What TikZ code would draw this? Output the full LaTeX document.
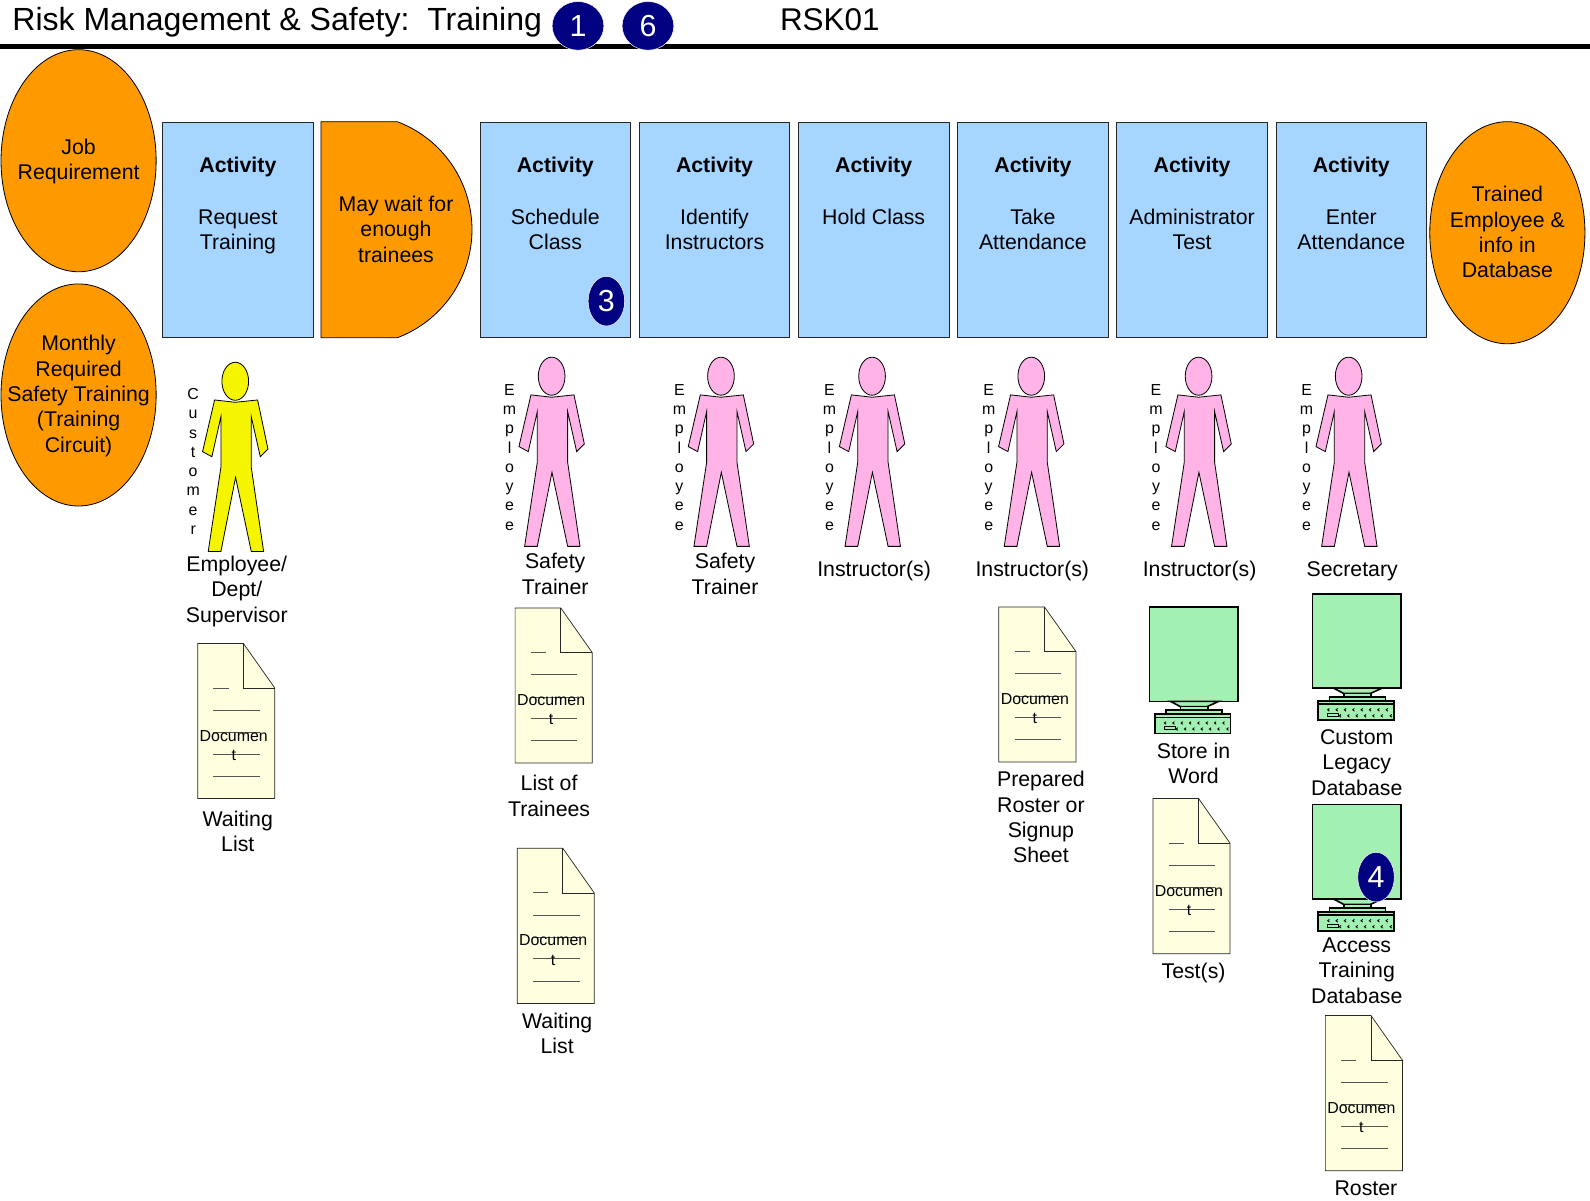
\documentclass[tikz,border=0pt]{standalone}
\usepackage{fontspec}
\setmainfont{Liberation Sans}
\usetikzlibrary{shapes.geometric}
\definecolor{orangefill}{HTML}{FF9900}
\definecolor{boxblue}{HTML}{A6D5FF}
\definecolor{navybadge}{HTML}{000080}
\definecolor{pinkfig}{HTML}{FFB3E6}
\definecolor{yellowfig}{HTML}{F5F500}
\definecolor{docfill}{HTML}{FFFFE0}
\definecolor{pcgreen}{HTML}{A3F0B3}
\definecolor{docline}{HTML}{555555}
\tikzset{
  lab/.style={font=\fontsize{21}{25}\selectfont,align=center,inner sep=0pt,text=black},
  orangeell/.style={ellipse,draw=black,line width=0.8pt,fill=orangefill,inner sep=0pt,minimum width=153pt,minimum height=219pt},
  actbox/.style={rectangle,draw=black!85,line width=0.8pt,fill=boxblue,inner sep=0pt,anchor=north west,minimum width=148.4pt,minimum height=212.6pt},
  badge/.style={ellipse,fill=navybadge,draw=white,line width=0.5pt,inner sep=0pt,text=white,font=\fontsize{30}{30}\selectfont},
  vert/.style={font=\fontsize{15.7}{19}\selectfont,align=center,inner sep=0pt},
  pics/person/.style={code={
    \begin{scope}[x=0.329pt,y=-0.329pt,draw=black,line width=0.8pt]
      \draw[fill=#1] (-62,56) -- (0,63) -- (67,56) -- (98,203) -- (75,226) -- (48,106) -- (48,258) -- (85,510) -- (48,510) -- (1,288) -- (-43,510) -- (-81,510) -- (-43,258) -- (-43,106) -- (-70,226) -- (-98,211) -- cycle;
      \draw[fill=#1] (0,0) ellipse [x radius=40,y radius=57];
    \end{scope}}},
  pics/docicon/.style={code={
    \draw[fill=docfill,draw=black!85,line width=0.7pt] (0,0) -- (45,0) -- (76,44) -- (76,153) -- (0,153) -- cycle;
    \draw[draw=black!85,line width=0.7pt] (45,0) -- (45,44) -- (76,44);
    \draw[docline,line width=0.8pt] (15.5,44) -- (30.5,44) (15.5,66) -- (61.5,66) (15.5,88) -- (61.5,88) (15.5,109) -- (61.5,109) (15.5,131) -- (61.5,131);
    \node[font=\fontsize{15.7}{19}\selectfont,align=center,inner sep=0pt] at (35.5,100.5) {Documen\\t};
  }},
  pics/pcicon/.style={code={
    \begin{scope}[x=0.329pt,y=-0.329pt,draw=black,line width=1.6pt,fill=pcgreen]
      \filldraw (0,0) rectangle (265,283);
      \filldraw (63,283) -- (93,299) -- (173,299) -- (208,283) -- cycle;
      \filldraw (93,299) rectangle (175,309);
      \filldraw (50,309) rectangle (218,321);
      \filldraw (16,321) rectangle (243,379);
      \draw (16,331) -- (243,331);
      \foreach \kx in {50,75,100,125,150,175,200,225} \draw[line width=0.9pt] (\kx,344) -- ++(-5,4) -- ++(5,4);
      \foreach \kx in {85,110,135,160,185,210,237} \draw[line width=0.9pt] (\kx,362) -- ++(-5,4) -- ++(5,4);
      \draw[line width=1pt] (45,358) rectangle (77,368);
    \end{scope}}}
}
\begin{document}
\begin{tikzpicture}[x=1pt,y=-1pt]
\useasboundingbox (0,0) rectangle (1568,1183.4);
% header
\draw[line width=5pt] (0,46) coordinate (ruleL) -- (1568,46) coordinate (ruleR);
\node[anchor=base west,inner sep=0pt,font=\fontsize{31.6}{34}\selectfont] (title) at (12,30) {Risk Management \& Safety:\ \ Training};
\node[anchor=base west,inner sep=0pt,font=\fontsize{31}{34}\selectfont] (code) at (769,30) {RSK01};
\node[badge,minimum width=51pt,minimum height=48pt] (b1) at (570,25.5) {1};
\node[badge,minimum width=51pt,minimum height=48pt] (b6) at (639,25.5) {6};
% orange ellipses
\node[orangeell] (job) at (77.5,158.5) {};
\node[lab] (jobt) at (77.5,159.5) {Job\\Requirement};
\node[orangeell] (mon) at (77.5,389.5) {};
\node[lab] (mont) at (77.5,390.5) {Monthly\\Required\\Safety Training\\(Training\\Circuit)};
\node[orangeell] (trained) at (1486.5,229.5) {};
\node[lab] (trainedt) at (1486.5,229) {Trained\\Employee \&\\info in\\Database};
% delay shape
\draw[fill=orangefill,draw=black,line width=0.8pt] (316.5,120) -- (391.8,120) arc[start angle=69.3,end angle=-69.3,radius=113.9pt] -- (316.5,333) -- cycle;
\node[lab] (wait) at (390.5,226) {May wait for\\enough\\trainees};
% activities
\foreach \nm/\bx/\tx in {a1/160/Request\\Training,a2/473/Schedule\\Class,a3/630/Identify\\Instructors,a4/787/Hold Class,a5/944/Take\\Attendance,a6/1101/Administrator\\Test,a7/1258/Enter\\Attendance}{
  \node[actbox] (\nm) at (\bx,120) {};
  \node[lab,anchor=north] at ([yshift=-34.5pt]\nm.north) {\textbf{Activity}\\[26pt]\tx};
}
\node[badge,minimum width=36pt,minimum height=49pt] (b3) at (598,297) {3};
% people
\pic at (232,376) {person=yellowfig};
\foreach \px in {544,711,860,1017,1182,1330} \pic at (\px,371) {person=pinkfig};
\node[vert] (vc) at (190.5,455) {C\\u\\s\\t\\o\\m\\e\\r};
\foreach \vx in {502.5,670,818,975,1140,1288.5} \node[vert] at (\vx,451) {E\\m\\p\\l\\o\\y\\e\\e};
% documents
\foreach \dx/\dy in {195/634.5,508/599.5,510/836.5,985/598.5,1137/787.5,1307/1001.5} \pic at (\dx,\dy) {docicon};
% computers
\pic at (1133.5,598.5) {pcicon};
\pic at (1294.5,585.5) {pcicon};
\pic at (1294.5,793.5) {pcicon};
\node[badge,minimum width=36pt,minimum height=49pt] (b4) at (1357,865) {4};
% labels
\node[lab] (l1) at (233.5,583) {Employee/\\Dept/\\Supervisor};
\node[lab] (l2) at (547.5,566) {Safety\\Trainer};
\node[lab] (l3) at (715,566) {Safety\\Trainer};
\node[lab] (l4) at (862,563) {Instructor(s)};
\node[lab] (l5) at (1018,563) {Instructor(s)};
\node[lab] (l6) at (1183,563) {Instructor(s)};
\node[lab] (l7) at (1333.5,563) {Secretary};
\node[lab] (l8) at (234.5,820) {Waiting\\List};
\node[lab] (l9) at (541.5,785) {List of\\Trainees};
\node[lab] (l10) at (549.5,1019) {Waiting\\List};
\node[lab] (l11) at (1026.5,806) {Prepared\\Roster or\\Signup\\Sheet};
\node[lab] (l12) at (1177,753) {Store in\\Word};
\node[lab] (l13) at (1177,960) {Test(s)};
\node[lab] (l14) at (1338,752) {Custom\\Legacy\\Database};
\node[lab] (l15) at (1338,957) {Access\\Training\\Database};
\node[lab] (l16) at (1347,1172) {Roster};
\end{tikzpicture}
\end{document}
